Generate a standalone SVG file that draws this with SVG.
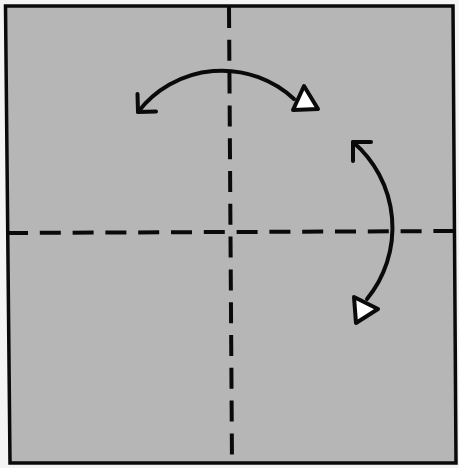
<svg xmlns="http://www.w3.org/2000/svg" width="459" height="468" viewBox="0 0 459 468">
  <style>
    .edge { fill: #b6b6b6; stroke: #0a0a0a; stroke-width: 3.5; stroke-linejoin: miter; }
    .fold { fill: none; stroke: #0a0a0a; stroke-width: 4; stroke-dasharray: 21 11.8; }
    .arc { fill: none; stroke: #0a0a0a; stroke-width: 4; stroke-linecap: round; stroke-linejoin: round; }
    .head { fill: #ffffff; stroke: #0a0a0a; stroke-width: 4; stroke-linejoin: round; }
  </style>
  <rect x="0" y="0" width="459" height="468" fill="#f4f4f4"/>
  <g id="paper">
    <polygon class="edge" points="5.5,6 453,6 456,463 10,463"/>
  </g>
  <g id="creases">
    <line class="fold" x1="229" y1="7" x2="232" y2="463"/>
    <line class="fold" x1="7" y1="233" x2="455" y2="231"/>
  </g>
  <g id="connectors">
    <g id="arrow-top">
      <path class="arc" d="M138,112 A106,106 0 0 1 294,99"/>
      <path class="arc" d="M137.5,94 L138,112 L156,111.5"/>
      <polygon class="head" points="304,86 318,109 293,110"/>
    </g>
    <g id="arrow-right">
      <path class="arc" d="M353,142 A112.7,112.7 0 0 1 367,299"/>
      <path class="arc" d="M353,161 L353,142 L371,142"/>
      <polygon class="head" points="354,297 378,309 356,323"/>
    </g>
  </g>
</svg>
